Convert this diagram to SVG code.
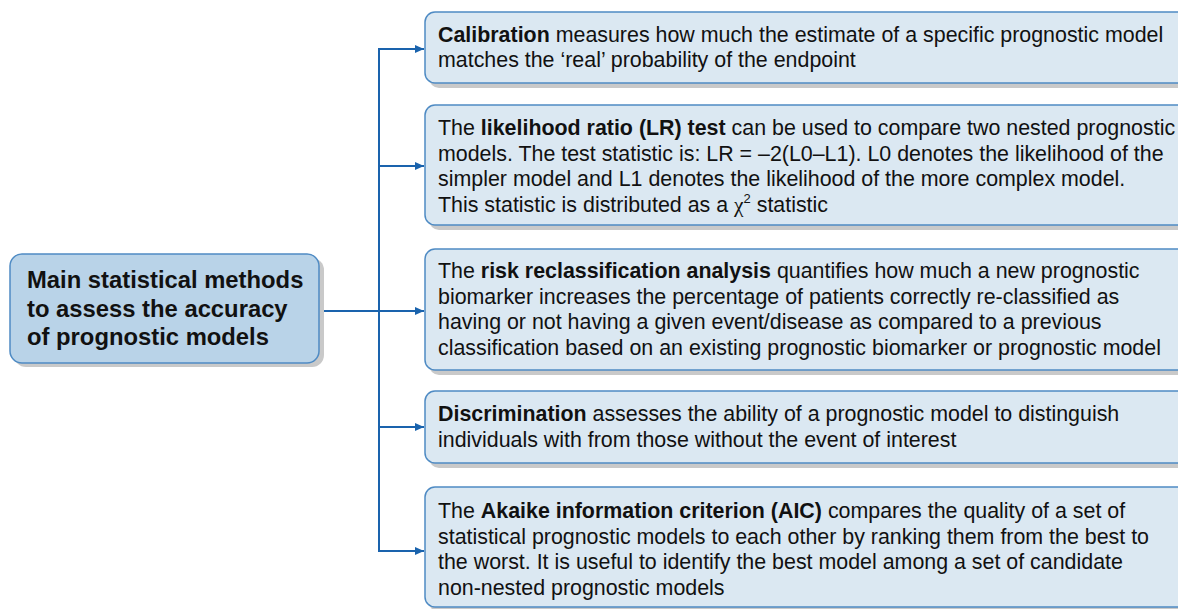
<svg xmlns="http://www.w3.org/2000/svg" width="1178" height="609" viewBox="0 0 1178 609">
<style>
.box{fill:#dbe8f2;stroke:#4f8bc4;stroke-width:1.5}
.main{fill:#b9d3e8;stroke:#4f8bc4;stroke-width:1.5}
.sh{fill:#c9c9c9}
.t{font-family:"Liberation Sans",Arial,sans-serif;font-size:21.4px;fill:#111}
.mt{font-family:"Liberation Sans",Arial,sans-serif;font-size:23.8px;font-weight:bold;fill:#111}
.b{font-weight:bold}
.con{fill:none;stroke:#1a63ad;stroke-width:2}
</style>
<defs>
<marker id="ah" markerWidth="10" markerHeight="10" refX="9" refY="5" orient="auto" markerUnits="userSpaceOnUse">
<path d="M0,1 L9,5 L0,9 Z" fill="#1a63ad"/>
</marker>
</defs>
<g id="connectors">
<path class="con" d="M319,311 H378"/>
<path class="con" d="M379,49 V551"/>
<path class="con" d="M378,49 H424" marker-end="url(#ah)"/>
<path class="con" d="M378,166 H424" marker-end="url(#ah)"/>
<path class="con" d="M378,311 H424" marker-end="url(#ah)"/>
<path class="con" d="M378,427 H424" marker-end="url(#ah)"/>
<path class="con" d="M378,551 H424" marker-end="url(#ah)"/>
</g>
<g id="main">
<rect class="sh" x="14" y="258" width="310" height="109" rx="12"/>
<rect class="main" x="10" y="254" width="309" height="109" rx="12"/>
<text class="mt" x="27" y="288">Main statistical methods</text>
<text class="mt" x="27" y="316.5">to assess the accuracy</text>
<text class="mt" x="27" y="345">of prognostic models</text>
</g>
<g id="calibration">
<rect class="sh" x="429" y="17" width="780" height="71" rx="10"/>
<rect class="box" x="425" y="12" width="780" height="71" rx="10"/>
<text class="t" x="438" y="41.5"><tspan class="b">Calibration</tspan> measures how much the estimate of a specific prognostic model</text>
<text class="t" x="438" y="66.7">matches the ‘real’ probability of the endpoint</text>
</g>
<g id="likelihood">
<rect class="sh" x="429" y="110" width="780" height="120" rx="10"/>
<rect class="box" x="425" y="105" width="780" height="120" rx="10"/>
<text class="t" x="438" y="135"><tspan>The </tspan><tspan class="b">likelihood ratio (LR) test</tspan> can be used to compare two nested prognostic</text>
<text class="t" x="438" y="160.5">models. The test statistic is: LR = –2(L0–L1). L0 denotes the likelihood of the</text>
<text class="t" x="438" y="186">simpler model and L1 denotes the likelihood of the more complex model.</text>
<text class="t" x="438" y="211.5">This statistic is distributed as a <tspan font-family="Liberation Serif,serif">χ</tspan><tspan font-size="13" dy="-9">2</tspan><tspan dy="9"> statistic</tspan></text>
</g>
<g id="reclassification">
<rect class="sh" x="429" y="254" width="780" height="121" rx="10"/>
<rect class="box" x="425" y="249" width="780" height="121" rx="10"/>
<text class="t" x="438" y="278">The <tspan class="b">risk reclassification analysis</tspan> quantifies how much a new prognostic</text>
<text class="t" x="438" y="303.5">biomarker increases the percentage of patients correctly re-classified as</text>
<text class="t" x="438" y="329">having or not having a given event/disease as compared to a previous</text>
<text class="t" x="438" y="354.5">classification based on an existing prognostic biomarker or prognostic model</text>
</g>
<g id="discrimination">
<rect class="sh" x="429" y="396" width="780" height="72" rx="10"/>
<rect class="box" x="425" y="391" width="780" height="72" rx="10"/>
<text class="t" x="438" y="421"><tspan class="b">Discrimination</tspan> assesses the ability of a prognostic model to distinguish</text>
<text class="t" x="438" y="446.5">individuals with from those without the event of interest</text>
</g>
<g id="aic">
<rect class="sh" x="429" y="492" width="780" height="120" rx="10"/>
<rect class="box" x="425" y="487" width="780" height="120" rx="10"/>
<text class="t" x="438" y="518"><tspan>The </tspan><tspan class="b">Akaike information criterion (AIC)</tspan> compares the quality of a set of</text>
<text class="t" x="438" y="543.5">statistical prognostic models to each other by ranking them from the best to</text>
<text class="t" x="438" y="569">the worst. It is useful to identify the best model among a set of candidate</text>
<text class="t" x="438" y="594.5">non-nested prognostic models</text>
</g>
</svg>
